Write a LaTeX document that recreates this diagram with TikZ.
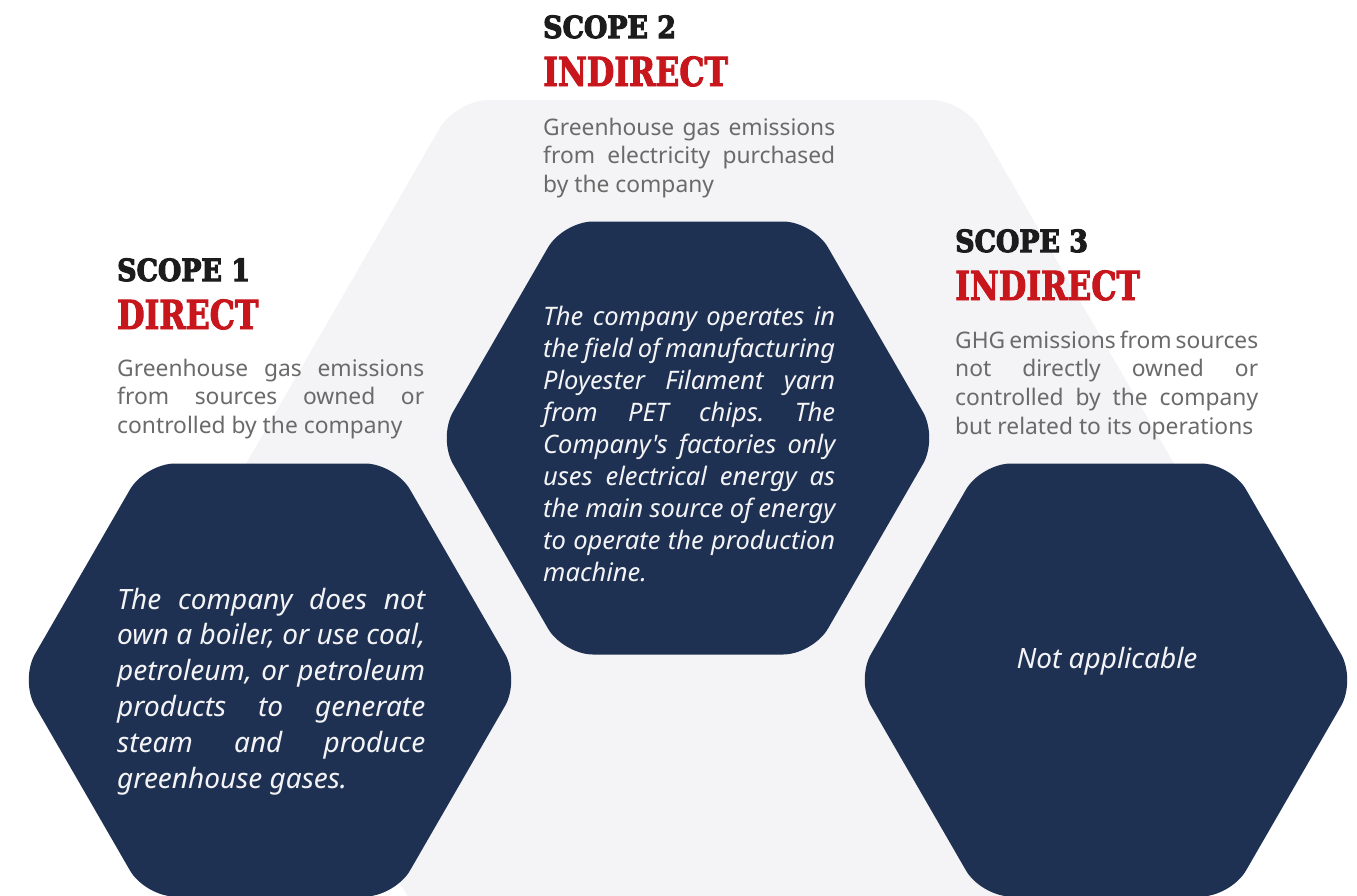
\documentclass[tikz,border=0pt]{standalone}
\usepackage{fontspec}
\setmainfont{Noto Sans}
\newfontfamily\bodyfont{Noto Sans}[Ligatures=TeXOff]
\newfontfamily\scopefont{DejaVu Serif}[FakeStretch=0.88, BoldFeatures={FakeBold=3.5}]
\newfontfamily\kindfont{DejaVu Serif}[FakeStretch=0.79, BoldFeatures={FakeBold=2.2}]
\definecolor{navy}{HTML}{1E3153}
\definecolor{bggray}{HTML}{F4F4F6}
\definecolor{scopered}{HTML}{C8161D}
\definecolor{titleblack}{HTML}{1C1C1C}
\definecolor{descgray}{HTML}{6A6A6A}
\definecolor{hexwhite}{HTML}{F4F4F6}
\newcommand\J[2]{\makebox[#1][s]{#2}}
\frenchspacing
\begin{document}
\begin{tikzpicture}[x=1pt,y=-1pt,
  bghex/.style={fill=bggray, rounded corners=33pt},
  darkhex/.style={fill=navy, rounded corners=30pt},
  title/.style={anchor=base west, inner sep=0pt, text=titleblack,
    font=\scopefont\bfseries\fontsize{30.5}{30.5}\selectfont},
  kind/.style={anchor=base west, inner sep=0pt, text=scopered,
    font=\kindfont\bfseries\fontsize{40}{40}\selectfont},
  desc/.style={anchor=base west, inner sep=0pt, text=descgray,
    font=\bodyfont\frenchspacing\fontsize{22.8}{28.8}\selectfont},
  hextext/.style={anchor=base west, inner sep=0pt, text=hexwhite,
    font=\bodyfont\frenchspacing\itshape\fontsize{28}{35.8}\selectfont},
  hextextm/.style={anchor=base west, inner sep=0pt, text=hexwhite,
    font=\bodyfont\frenchspacing\itshape\fontsize{25.5}{32}\selectfont}]
\useasboundingbox (0,0) rectangle (1357,895);
\clip (0,0) rectangle (1357,895);
\fill[white] (0,0) rectangle (1357,895);
% large light hexagon
\fill[bghex] (710,100) -- (964,100) -- (1218,540) -- (964,980) -- (456,980) -- (202,540) -- (456,100) -- cycle;
% dark hexagons
\fill[darkhex] (688,221.5) -- (813,221.5) -- (938,438) -- (813,654.5) -- (563,654.5) -- (438,438) -- (563,221.5) -- cycle;
\fill[darkhex] (270,463.5) -- (395,463.5) -- (520,680) -- (395,896.5) -- (145,896.5) -- (20,680) -- (145,463.5) -- cycle;
\fill[darkhex] (1106,463.5) -- (1231,463.5) -- (1356,680) -- (1231,896.5) -- (981,896.5) -- (856,680) -- (981,463.5) -- cycle;
% scope 1
\node[title] (s1) at (117,281) {SCOPE 1};
\node[kind] (k1) at (117,329) {DIRECT};
\node[desc] (d1) at (117,376) {\parbox[t]{307pt}{\J{307pt}{Greenhouse gas emissions}\\\J{307pt}{from sources owned or}\\controlled by the company}};
% scope 2
\node[title] (s2) at (543,38) {SCOPE 2};
\node[kind] (k2) at (543,86) {INDIRECT};
\node[desc] (d2) at (543,135) {\parbox[t]{292pt}{\J{292pt}{Greenhouse gas emissions}\\\J{292pt}{from electricity purchased}\\by the company}};
% scope 3
\node[title] (s3) at (955,252) {SCOPE 3};
\node[kind] (k3) at (955,300) {INDIRECT};
\node[desc] (d3) at (955,348) {\parbox[t]{303pt}{\J{303pt}{GHG emissions from sources}\\\J{303pt}{not directly owned or}\\\J{303pt}{controlled by the company}\\but related to its operations}};
% hexagon texts
\node[hextext] (h1) at (117,609) {\parbox[t]{308pt}{\J{308pt}{The company does not}\\\J{308pt}{own a boiler, or use coal,}\\\J{308pt}{petroleum, or petroleum}\\\J{308pt}{products to generate}\\\J{308pt}{steam and produce}\\greenhouse gases.}};
\node[hextextm] (h2) at (543,325) {\parbox[t]{292pt}{\J{292pt}{The company operates in}\\\J{292pt}{the field of manufacturing}\\\J{292pt}{Ployester Filament yarn}\\\J{292pt}{from PET chips. The}\\\J{292pt}{Company's factories only}\\\J{292pt}{uses electrical energy as}\\\J{292pt}{the main source of energy}\\\J{292pt}{to operate the production}\\machine.}};
\node[hextext, anchor=base] (h3) at (1107,668) {Not applicable};
\end{tikzpicture}
\end{document}
